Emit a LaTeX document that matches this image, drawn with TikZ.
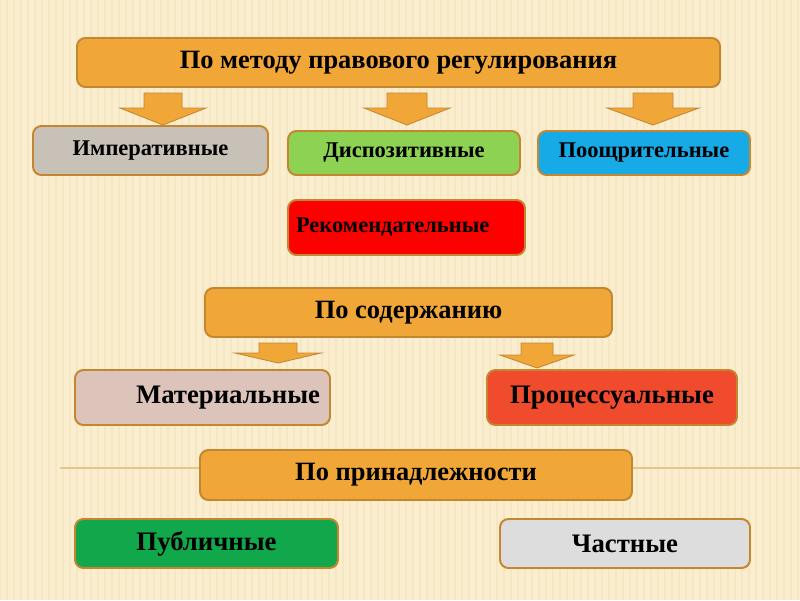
\documentclass[tikz,border=0pt]{standalone}
\usepackage{fontspec}
\setmainfont{Liberation Serif}
\usetikzlibrary{positioning}
\definecolor{bgcream}{RGB}{250,238,207}
\definecolor{bgstripe}{RGB}{246,231,196}
\definecolor{slideline}{RGB}{230,196,140}
\definecolor{headorange}{RGB}{241,166,56}
\definecolor{boxline}{RGB}{196,134,48}
\definecolor{imgrey}{RGB}{200,193,183}
\definecolor{disgreen}{RGB}{141,210,82}
\definecolor{poblue}{RGB}{22,170,230}
\definecolor{rekred}{RGB}{255,0,0}
\definecolor{matpink}{RGB}{221,196,187}
\definecolor{procred}{RGB}{240,75,45}
\definecolor{pubgreen}{RGB}{16,168,74}
\definecolor{chgrey}{RGB}{221,221,221}
\newcommand{\px}{0.025cm}
\tikzset{
  box/.style={draw=boxline, line width=1.4pt, rounded corners=6pt, inner sep=0pt,
    font=\bfseries\fontsize{16}{18}\selectfont},
  headbox/.style={box, fill=headorange, font=\bfseries\fontsize{18.8}{21}\selectfont},
  bigbox/.style={box, font=\bfseries\fontsize{19}{21}\selectfont},
  pics/downarrow/.style n args={4}{code={
    \filldraw[fill=headorange, draw=boxline, line width=0.6pt]
      (-#1,-#4) -- (#1,-#4) -- (#1,-#3) -- (#2,-#3) -- (0,0) -- (-#2,-#3) -- (-#1,-#3) -- cycle;
  }}
}
\begin{document}
\begin{tikzpicture}[x=0.025cm, y=-0.025cm]
\useasboundingbox (0,0) rectangle (800,600);
% background
\fill[bgcream] (0,0) rectangle (800,600);
\foreach \i in {0,7,...,800}
  \draw[bgstripe, line width=1.5pt] (\i,0) -- (\i,600);
\draw[slideline, line width=0.8pt] (60,468) -- (800,468);
% by method
\node[headbox, minimum width=643*\px, minimum height=49*\px] (metod) at (398.5,62.5) {По методу правового регулирования};
\pic at (163,125) {downarrow={19}{43}{17}{32}};
\pic at (407,125) {downarrow={20}{43}{17}{32}};
\pic at (653,125) {downarrow={20}{46}{17}{32}};
\node[box, fill=imgrey, minimum width=235*\px, minimum height=49*\px] (imper) at (150.5,150.5) {Императивные};
\node[box, fill=disgreen, minimum width=232*\px, minimum height=44*\px] (dispoz) at (404,153) {Диспозитивные};
\node[box, fill=poblue, minimum width=212*\px, minimum height=44*\px] (pooshch) at (644,153) {Поощрительные};
\node[box, fill=rekred, text width=221*\px, inner xsep=8*\px, align=left, minimum height=55*\px] (rekom) at (406.5,227.5) {Рекомендательные};
% by content
\node[headbox, minimum width=407*\px, minimum height=49*\px] (soderzh) at (408.5,312.5) {По содержанию};
\pic at (278,363) {downarrow={19}{43}{10}{20}};
\pic at (537,368) {downarrow={16}{37}{13}{25}};
\node[bigbox, fill=matpink, text width=235*\px, inner xsep=10*\px, align=right, minimum height=55*\px] (mater) at (202.5,397.5) {Материальные};
\node[bigbox, fill=procred, minimum width=250*\px, minimum height=55*\px] (process) at (612,397.5) {Процессуальные};
% by belonging
\node[headbox, minimum width=432*\px, minimum height=50*\px] (prinadl) at (416,475) {По принадлежности};
\node[bigbox, fill=pubgreen, minimum width=263*\px, minimum height=49*\px] (public) at (206.5,543.5) {Публичные};
\node[bigbox, fill=chgrey, minimum width=250*\px, minimum height=49*\px] (private) at (625,543.5) {Частные};
\end{tikzpicture}
\end{document}
